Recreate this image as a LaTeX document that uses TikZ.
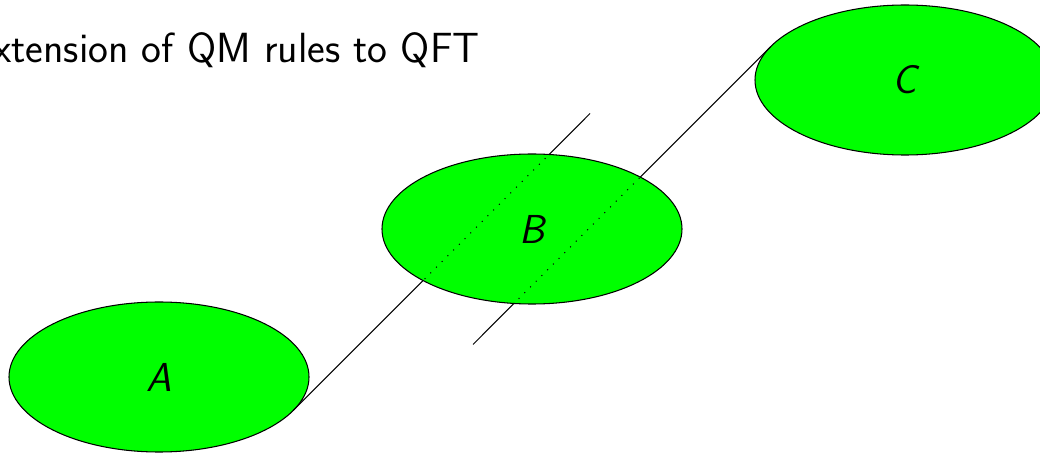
\documentclass[tikz,border=0pt]{standalone}
\usetikzlibrary{shapes.geometric}
\tikzset{blob/.style={ellipse,draw,fill=green,line width=.6pt,minimum width=60mm,
  minimum height=30mm,outer sep=0pt,inner sep=0pt,
  font=\fontsize{23}{27}\selectfont\sffamily\itshape},
  leg/.style={line width=.6pt},
  hidden/.style={line width=.6pt,dash pattern=on .6pt off 4pt}}

\begin{document}
\begin{tikzpicture}[font=\sffamily]
\useasboundingbox (0,0) rectangle (20.8,9.06);
\clip (0,0) rectangle (20.8,9.06);
\node[anchor=base east,inner sep=0pt,font=\fontsize{24}{28}\selectfont\sffamily] (title) at (9.6,7.8) {Extension of QM rules to QFT};
\node[blob] (A) at (3.18,1.52) {A};
\node[blob] (C) at (18.1,7.46) {C};
\coordinate (Atop) at (11.8,6.79);
\coordinate (Cfoot) at (9.46,2.17);
% the two legs, B is laid over them
\draw[leg] (A.-14) -- (Atop);
\draw[leg] (Cfoot) -- (C.166);
\node[blob] (B) at (10.64,4.48) {B};
\begin{scope}
\clip (B.center) ellipse [x radius=30mm,y radius=15mm];
\draw[hidden] (A.-14) -- (Atop);
\draw[hidden] (Cfoot) -- (C.166);
\end{scope}
\end{tikzpicture}
\end{document}
